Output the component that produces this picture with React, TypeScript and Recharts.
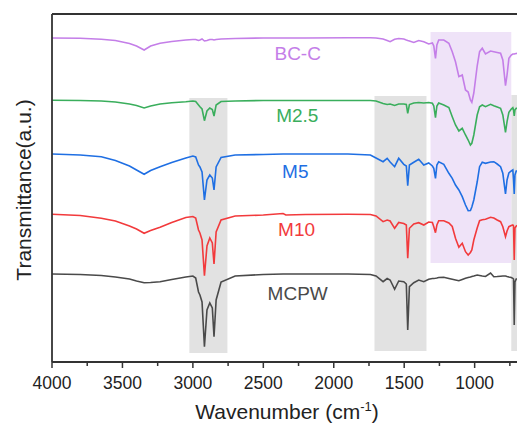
import React from 'react';
import {
  LineChart,
  Line,
  XAxis,
  YAxis,
  ReferenceArea,
  ReferenceLine,
  ReferenceDot,
} from 'recharts';

// wavenumber grid (cm-1) shared by all spectra
const wavenumbers = [
  4000, 3800, 3650, 3550, 3450, 3400, 3346, 3300, 3233, 3150,
  3050, 3000, 2980, 2960, 2950, 2935, 2918, 2900, 2880, 2862,
  2850, 2835, 2800, 2700, 2500, 2360, 2340, 2200, 1900, 1740,
  1700, 1650, 1621, 1600, 1568, 1539, 1503, 1485, 1475, 1463,
  1432, 1397, 1361, 1326, 1300, 1290, 1278, 1268, 1255, 1219,
  1183, 1159, 1136, 1112, 1088, 1065, 1046, 1030, 1020, 1006,
  982, 965, 946, 923, 887, 864, 840, 816, 800, 781,
  770, 757, 740, 729, 724, 719, 714, 705, 690, 650,
];

// stacked transmittance (a.u.)
const bcc = [
  324, 323.7, 322.7, 321.5, 318.5, 316, 312, 316, 318.7, 320.5,
  322, 322.5, 322.5, 321.5, 322, 323, 321, 321.5, 322.5, 322.5,
  322, 322.5, 323, 323.5, 324, 324, 324, 324, 324.2, 324.3,
  324, 323, 321.5, 320.3, 322.7, 323.5, 323, 322, 321.5, 321,
  319.5, 321.5, 320.3, 318, 319, 316, 303.7, 317, 322, 322,
  318.7, 310.3, 300.3, 285.3, 287, 272, 270, 262, 259.7, 269,
  296, 310.3, 313.7, 308, 311, 310.3, 309.5, 308.7, 302, 276.3,
  287, 303.7, 307, 308, 308, 308, 308.2, 308.5, 308.7, 308.7,
];

const m25 = [
  261.7, 261.5, 261, 260, 258, 256.5, 254, 256, 258, 259.3,
  260.3, 261, 260.5, 257, 255.3, 253, 241.3, 251, 254, 252.5,
  246, 257, 260.5, 261, 261.5, 261.5, 261.5, 261.5, 261.5, 261.5,
  261, 258.5, 257.5, 258, 256.5, 258, 258, 257.5, 248.7, 257.5,
  259, 259.5, 259, 259.5, 258.7, 256, 244.3, 256, 259, 257,
  254.5, 245.3, 237, 231, 233.7, 227, 222, 217, 218.7, 227,
  247, 255.3, 257, 255.3, 257.7, 256.3, 255, 253.7, 247, 229.7,
  240.3, 249.7, 253, 254.3, 252, 246, 252, 253.7, 253.7, 253.7,
];

const m5 = [
  208, 207, 205.3, 201.5, 196, 192, 187.7, 191.5, 195.3, 199.5,
  204, 206, 205, 197, 195, 190, 162, 182, 187, 184,
  172, 195, 204.5, 207, 207.5, 208, 208, 208, 208, 207,
  204, 200.3, 203.7, 200, 195.3, 203.7, 197.7, 196, 176.3, 197,
  199.7, 202.7, 197, 199, 196, 193.7, 183.7, 197, 200.3, 197.7,
  188.7, 183.7, 177, 172, 165.3, 157, 151.3, 151.5, 155, 162,
  180, 195.3, 199.7, 198.7, 200, 200.3, 198, 195.3, 188.7, 168,
  182, 189, 191, 192, 182, 168, 187, 191, 191, 191,
];

const m10 = [
  147.7, 146.5, 143.7, 141, 136, 133, 128.7, 131.5, 134.7, 139.5,
  144.5, 145.5, 144, 132, 129, 122, 86.3, 116, 124, 119,
  98, 130, 142, 146, 147, 148.5, 147, 147.5, 147.7, 147.5,
  146, 140.3, 142, 141, 133.7, 139.5, 138.5, 137, 103.7, 133.7,
  138, 139.3, 137, 140, 139.5, 135.3, 129.3, 137, 141.3, 141.3,
  139, 135.5, 123.7, 114.7, 118.7, 110.3, 107, 109.5, 112, 122,
  134, 141.3, 142.2, 142.7, 144.7, 144, 142, 140.3, 135.3, 125.3,
  131, 135.3, 136.5, 137, 136, 102, 134, 136, 137, 137,
];

const mcpw = [
  88, 87.5, 86.5, 85, 83, 81, 79.3, 79.5, 80.3, 82.5,
  85, 86, 84, 70, 67, 60, 15.3, 52, 59, 54,
  25.3, 62, 80, 86, 87.5, 88, 88, 88, 88, 87.5,
  86, 80.3, 83.5, 82, 72.7, 81, 80.3, 78, 32, 75.3,
  79.3, 82, 80.3, 82.7, 83.5, 83.5, 83.7, 84, 84.5, 84.7,
  83.5, 82.7, 82, 81.3, 82.5, 83.7, 84.5, 85, 85.5, 86,
  87, 86.5, 86, 85.5, 89, 85.3, 85.5, 85.8, 86, 86,
  85.5, 85, 84.5, 83.7, 83, 37, 80, 83, 83, 83,
];

const majorTicks = [4000, 3500, 3000, 2500, 2000, 1500, 1000];
const allTicks = [4000, 3750, 3500, 3250, 3000, 2750, 2500, 2250, 2000, 1750, 1500, 1250, 1000, 750];

// shaded bands: [from, to, bottom, top]
const grayBands = [
  [3025, 2755, 9, 264],
  [1711, 1342, 11, 266],
  [740, 600, 11, 267],
];
const purpleBand = [1313, 740, 99, 330];

const series = [
  { key: 'bcc', name: 'BC-C', color: '#C47EE8', values: bcc, lx: 2256, ly: 308.7 },
  { key: 'm25', name: 'M2.5', color: '#3AAE5C', values: m25, lx: 2259, ly: 247 },
  { key: 'm5', name: 'M5', color: '#1F6FE3', values: m5, lx: 2273, ly: 190.3 },
  { key: 'm10', name: 'M10', color: '#F23A3C', values: m10, lx: 2264, ly: 133.2 },
  { key: 'mcpw', name: 'MCPW', color: '#4A4A4A', values: mcpw, lx: 2256, ly: 69 },
];

const data = wavenumbers.map((wn, i) => {
  const row: any = { wn };
  series.forEach((s) => {
    row[s.key] = s.values[i];
  });
  return row;
});

const AXIS = '#333';

const XTick = (props: any) => {
  const { x, y, payload } = props;
  const major = majorTicks.includes(payload.value);
  const axisY = y - 6;
  return (
    <g>
      <line x1={x} x2={x} y1={axisY} y2={axisY + (major ? 6 : 4)} stroke={AXIS} strokeWidth={1.5} />
      {major && (
        <text x={x} y={axisY + 27} textAnchor="middle" fontSize={17.5} fill="#222">
          {payload.value}
        </text>
      )}
    </g>
  );
};

const XTitle = (p: any) => {
  const vb = p.viewBox || { x: 52, y: 362 };
  const x = vb.x + 235;
  const y = vb.y + 57;
  return (
    <text x={x} y={y} textAnchor="middle" fontSize={21} fill="#222">
      Wavenumber (cm
      <tspan dy={-8} fontSize={13}>-1</tspan>
      <tspan dy={8}>)</tspan>
    </text>
  );
};

const YTitle = (p: any) => {
  const vb = p.viewBox || { x: 0, y: 14, height: 348 };
  const cx = vb.x + 23;
  const cy = vb.y + vb.height / 2 + 2;
  return (
    <text
      x={cx}
      y={cy}
      transform={`rotate(-90 ${cx} ${cy})`}
      textAnchor="middle"
      dominantBaseline="central"
      fontSize={21}
      fill="#222"
    >
      Transmittance(a.u.)
    </text>
  );
};

export default function App() {
  return (
    <div
      style={{
        position: 'absolute',
        left: 0,
        top: 0,
        width: 517,
        height: 425,
        overflow: 'hidden',
        background: '#fff',
        fontFamily: '"Liberation Sans", Arial, sans-serif',
      }}
    >
      <LineChart width={531} height={425} data={data} margin={{ top: 14, right: 0, left: 0, bottom: 0 }}>
        {grayBands.map((b, i) => (
          <ReferenceArea key={i} x1={b[0]} x2={b[1]} y1={b[2]} y2={b[3]} fill="#E2E2E2" fillOpacity={1} stroke="none" />
        ))}
        <ReferenceArea
          x1={purpleBand[0]}
          x2={purpleBand[1]}
          y1={purpleBand[2]}
          y2={purpleBand[3]}
          fill="#EFE3F8"
          fillOpacity={1}
          stroke="none"
        />
        <XAxis
          dataKey="wn"
          type="number"
          domain={[600, 4000]}
          reversed
          ticks={allTicks}
          interval={0}
          tick={<XTick />}
          tickLine={false}
          tickSize={6}
          tickMargin={0}
          height={63}
          axisLine={{ stroke: AXIS, strokeWidth: 1.8 }}
          allowDataOverflow
          label={XTitle}
        />
        <YAxis
          type="number"
          domain={[0, 348]}
          width={52}
          tick={false}
          tickLine={false}
          axisLine={{ stroke: AXIS, strokeWidth: 1.8 }}
          label={YTitle}
        />
        <ReferenceLine y={348} stroke={AXIS} strokeWidth={1.8} />
        {series.map((s) => (
          <Line
            key={s.key}
            dataKey={s.key}
            type="linear"
            stroke={s.color}
            strokeWidth={1.6}
            dot={false}
            isAnimationActive={false}
          />
        ))}
        {series.map((s) => (
          <ReferenceDot
            key={'lbl-' + s.key}
            x={s.lx}
            y={s.ly}
            r={0}
            fill="none"
            stroke="none"
            ifOverflow="visible"
            label={{ value: s.name, position: 'center', fill: s.color, fontSize: 19 }}
          />
        ))}
      </LineChart>
    </div>
  );
}
